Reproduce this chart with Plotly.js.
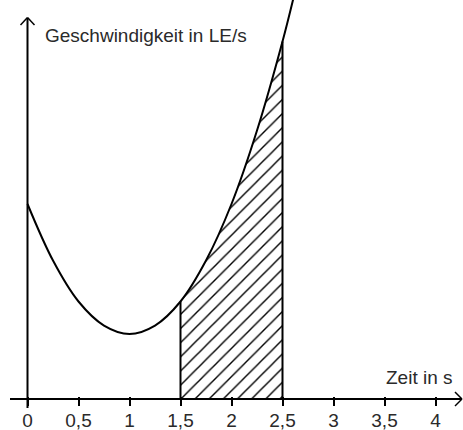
<!DOCTYPE html>
<html>
<head>
<meta charset="utf-8">
<script src="https://cdn.plot.ly/plotly-3.0.1.min.js"></script>
<style>html,body{margin:0;padding:0;background:#fff;}#chart{width:463px;height:430px;}</style>
</head>
<body>
<div id="chart"></div>
<script>
// Data
const timeS = [0, 0.25, 0.5, 0.75, 1, 1.25, 1.5, 1.75, 2, 2.25, 2.5, 2.62];
const speed = [3, 2.13, 1.5, 1.13, 1, 1.13, 1.5, 2.13, 3, 4.13, 5.5, 6.25];
const hatchFrom = 1.5;
const hatchTo = 2.5;
const tickValues = [0, 0.5, 1, 1.5, 2, 2.5, 3, 3.5, 4];
const tickLabels = ['0', '0,5', '1', '1,5', '2', '2,5', '3', '3,5', '4'];
const xTitle = 'Zeit in s';
const yTitle = 'Geschwindigkeit in LE/s';

const W = 463, H = 430;
const px = x => x / W;
const py = y => 1 - y / H;

const hatchX = [], hatchY = [];
timeS.forEach((t, i) => { if (t >= hatchFrom && t <= hatchTo) { hatchX.push(t); hatchY.push(speed[i]); } });

const traces = [
  {x: hatchX, y: hatchY, mode: 'lines', line: {width: 0, shape: 'spline', color: 'black'},
   fill: 'tozeroy', fillcolor: 'white',
   fillpattern: {shape: '/', fgcolor: 'black', bgcolor: 'white', size: 10, solidity: 0.14},
   hoverinfo: 'skip'},
  {x: [hatchX[0], hatchX[0]], y: [0, hatchY[0]], mode: 'lines', line: {color: 'black', width: 2}},
  {x: [hatchX[hatchX.length-1], hatchX[hatchX.length-1]], y: [0, hatchY[hatchY.length-1]], mode: 'lines', line: {color: 'black', width: 2}},
  {x: timeS, y: speed, mode: 'lines', line: {color: 'black', width: 2, shape: 'spline'}}
];

const line = (x0, y0, x1, y1, w) => ({type: 'line', xref: 'paper', yref: 'paper',
  x0: px(x0), y0: py(y0), x1: px(x1), y1: py(y1), line: {color: 'black', width: w}});

const shapes = [
  line(10, 399, 461, 399, 2),
  line(455, 392, 462, 399, 1.5),
  line(455, 406, 462, 399, 1.5),
  line(27.5, 408, 27.5, 18, 2),
  line(27.5, 17.5, 20.5, 25, 1.5),
  line(27.5, 17.5, 34.5, 25, 1.5)
];

const font = {family: '"Liberation Sans", Arial, sans-serif', size: 19, color: '#2a2a2a'};

const layout = {
  width: W, height: H,
  margin: {l: 0, r: 0, t: 0, b: 0},
  paper_bgcolor: 'white', plot_bgcolor: 'white',
  showlegend: false,
  font: font,
  xaxis: {range: [-27.5/102, (W-27.5)/102], showgrid: false, zeroline: false, showline: false,
    anchor: 'free', position: (H-396)/H, side: 'bottom',
    tickmode: 'array', tickvals: tickValues, ticktext: tickLabels,
    ticks: 'outside', ticklen: 9, tickwidth: 2, tickcolor: 'black',
    ticklabelstandoff: -2,
    tickfont: font, fixedrange: true},
  yaxis: {range: [-31/65, 399/65], visible: false, fixedrange: true},
  shapes: shapes,
  annotations: [
    {xref: 'paper', yref: 'paper', x: px(43), y: py(35), xanchor: 'left', yanchor: 'middle',
     text: yTitle, showarrow: false, font: font},
    {xref: 'paper', yref: 'paper', x: px(455), y: py(377), xanchor: 'right', yanchor: 'middle',
     text: xTitle, showarrow: false, font: font}
  ]
};

Plotly.newPlot('chart', traces, layout, {displayModeBar: false, staticPlot: true});
</script>
</body>
</html>
